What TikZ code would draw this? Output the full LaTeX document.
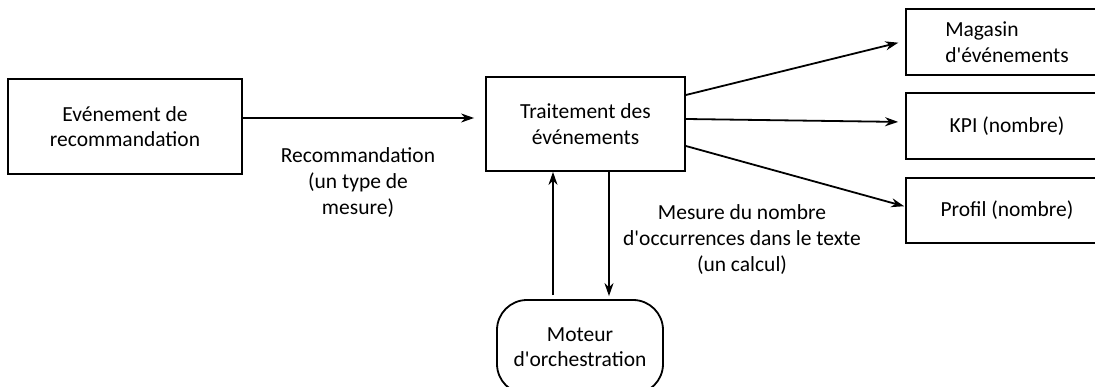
\documentclass[tikz,border=0pt]{standalone}
\usepackage{fontspec}
\setmainfont{Carlito}
\newfontfamily\plainap{Carlito}
\usetikzlibrary{arrows.meta,calc}
\newcommand{\ap}{{\plainap\symbol{39}}}
\begin{document}
\begin{tikzpicture}[x=1pt,y=-1pt,
  box/.style={draw,line width=1.8pt,rectangle,align=center,inner sep=0pt,font=\fontsize{21.5}{25.5}\selectfont},
  rbox/.style={box,rounded corners=30pt},
  lbl/.style={align=center,inner sep=0pt,font=\fontsize{21.5}{26}\selectfont},
  conn/.style={line width=1.8pt,-{Stealth[length=13pt,width=9pt]}}]
\useasboundingbox (0,0) rectangle (1095,387);
\node[box,minimum width=234pt,minimum height=95pt] (E) at (125,126.5) {Evénement de\\recommandation};
\node[box,minimum width=199pt,minimum height=94pt] (T) at (585.5,124) {Traitement des\\événements};
\node[box,minimum width=202pt,minimum height=66pt,align=left] (M) at (1007,42) {Magasin\\d\ap événements};
\node[box,minimum width=202pt,minimum height=66pt] (K) at (1007,126) {KPI (nombre)};
\node[box,minimum width=202pt,minimum height=65pt] (P) at (1007,210.5) {Profil (nombre)};
\node[rbox,minimum width=166pt,minimum height=94pt] (O) at (580,347) {Moteur\\d\ap orchestration};
\node[lbl] (L1) at (358,183) {Recommandation\\(un type de\\mesure)};
\node[lbl] (L2) at (742,239.5) {Mesure du nombre\\d\ap occurrences dans le texte\\(un calcul)};
\draw[conn,shorten >=11pt] ([yshift=8.5pt]E.east) -- ([yshift=6pt]T.west);
\draw[conn,shorten >=7pt] ([yshift=29pt]T.east) -- ([yshift=1pt]M.west);
\draw[conn,shorten >=7pt] ([yshift=5pt]T.east) -- ([yshift=4pt]K.west);
\draw[conn,shorten >=1pt] ([yshift=-22pt]T.east) -- ([yshift=4pt]P.west);
\draw[conn,shorten <=4pt] (O.north -| 553,0) -- (T.south -| 553,0);
\draw[conn,shorten >=3pt] (T.south -| 609,0) -- (O.north -| 609,0);
\end{tikzpicture}
\end{document}
